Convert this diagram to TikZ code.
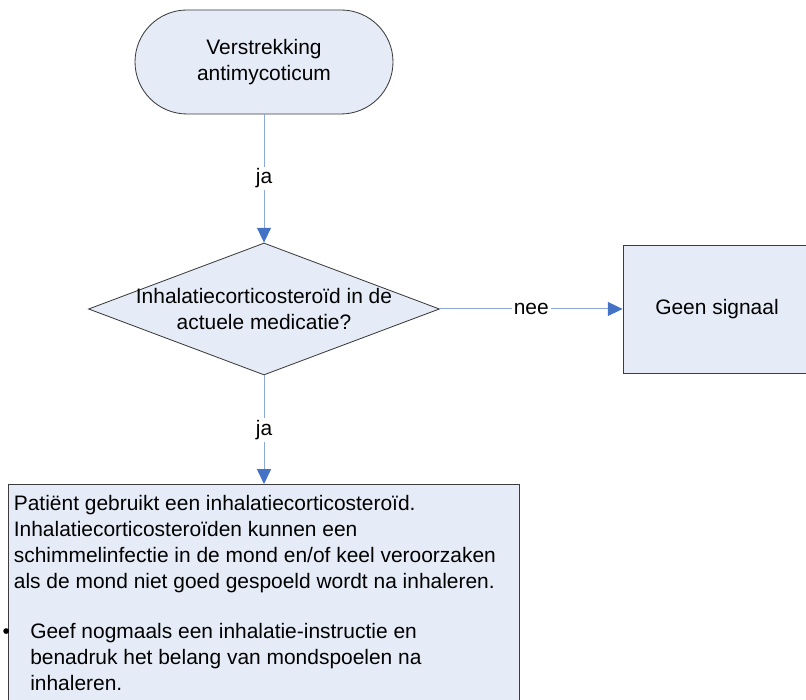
\documentclass[tikz,border=0pt]{standalone}
\usepackage{fontspec}
\setmainfont{Liberation Sans}
\usetikzlibrary{shapes.geometric,arrows.meta}

\definecolor{boxfill}{RGB}{230,236,247}
\definecolor{boxline}{RGB}{60,60,60}
\definecolor{flowline}{RGB}{140,168,218}
\definecolor{flowhead}{RGB}{68,114,196}

\tikzset{
  box/.style={draw=boxline, fill=boxfill, line width=0.6pt, align=center,
    inner sep=0pt, font=\fontsize{14.9}{18.5}\selectfont},
  flow/.style={draw=flowline, line width=0.7pt,
    -{Triangle[length=0.37cm,width=0.35cm,color=flowhead,fill=flowhead]}},
  answer/.style={fill=white, inner sep=1.5pt, font=\fontsize{14.9}{18.5}\selectfont}
}

\begin{document}
\begin{tikzpicture}
\useasboundingbox (0,0) rectangle (20.15,17.5);
\clip (0,0) rectangle (20.15,17.5);
\node[box, rounded corners=1.3cm, minimum width=6.45cm, minimum height=2.6cm]
  (start) at (6.6,15.95) {Verstrekking\\antimycoticum};
\node[box, diamond, aspect=3, inner xsep=-0.4cm, inner ysep=-0.2cm,
  minimum width=8.775cm, minimum height=3.3cm]
  (vraag) at (6.6,9.775) {Inhalatiecorticosteroïd in de\\actuele medicatie?};
\node[box, minimum width=4.7cm, minimum height=3.2cm]
  (geen) at (17.925,9.775) {Geen signaal};
\node[box, minimum width=12.79cm, minimum height=6cm, anchor=north]
  (advies) at (6.6,5.4) {};
\node[anchor=north west, align=left, inner sep=0pt, font=\fontsize{14.9}{18.5}\selectfont]
  (adviestekst) at (0.34,5.125) {Patiënt gebruikt een inhalatiecorticosteroïd.\\
  Inhalatiecorticosteroïden kunnen een\\
  schimmelinfectie in de mond en/of keel veroorzaken\\
  als de mond niet goed gespoeld wordt na inhaleren.\\[17pt]
  \llap{\textbullet\hspace{0.1cm}}\hspace*{0.41cm}Geef nogmaals een inhalatie-instructie en\\
  \hspace*{0.41cm}benadruk het belang van mondspoelen na\\
  \hspace*{0.41cm}inhaleren.};
\draw[flow] (start) -- node[answer] {ja} (vraag);
\draw[flow] (vraag) -- node[answer] {nee} (geen);
\draw[flow] (vraag) -- node[answer] {ja} (advies);
\end{tikzpicture}
\end{document}
